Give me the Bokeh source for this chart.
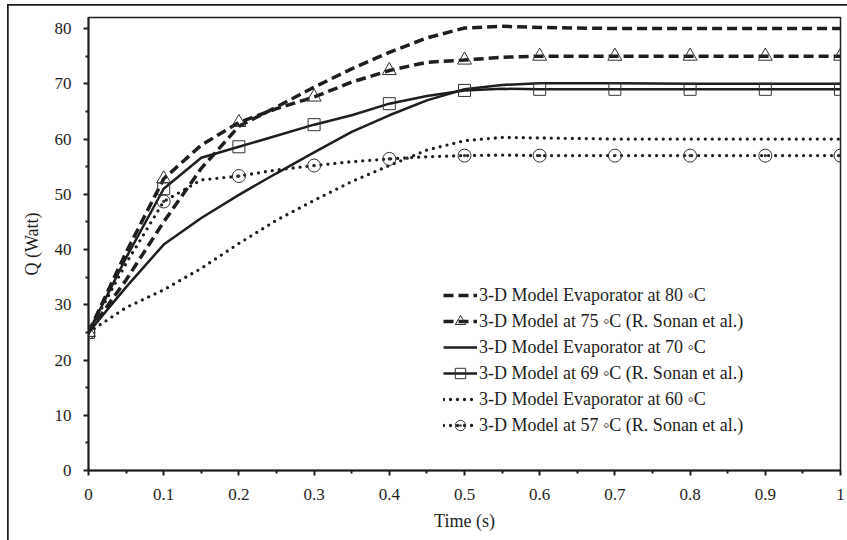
from bokeh.plotting import figure
from bokeh.models import Legend, LegendItem, FixedTicker, CustomJSTickFormatter, Range1d
from bokeh.embed import file_html
from bokeh.resources import INLINE

# ---- data ----
x_curve = [0, 0.05, 0.1, 0.15, 0.2, 0.25, 0.3, 0.35, 0.4, 0.45, 0.5, 0.55, 0.6, 0.7, 0.8, 0.9, 1.0]
q80 = [25, 34.5, 45.0, 54.7, 62.3, 65.8, 69.4, 72.7, 75.7, 78.3, 80.1, 80.4, 80.2, 80, 80, 80, 80]
q70 = [25, 33.2, 40.9, 45.7, 49.9, 53.8, 57.6, 61.3, 64.3, 67.0, 69.0, 69.8, 70.1, 70.1, 70, 70, 70]
q60 = [25, 29.5, 32.7, 36.6, 41.1, 45.3, 48.9, 52.3, 55.2, 58.0, 59.7, 60.3, 60.2, 60, 60, 60, 60]
q75_line = [25, 39.5, 52.8, 58.9, 63.0, 65.5, 67.6, 70.3, 72.4, 73.9, 74.3, 74.8, 75, 75, 75, 75, 75]
q69_line = [25, 38.5, 51.0, 56.6, 58.6, 60.6, 62.6, 64.3, 66.4, 67.8, 68.8, 69.1, 69, 69, 69, 69, 69]
q57_line = [25, 37.5, 48.7, 52.6, 53.3, 54.4, 55.2, 55.9, 56.4, 56.8, 57.0, 57.1, 57, 57, 57, 57, 57]

x_ref = [0, 0.1, 0.2, 0.3, 0.4, 0.5, 0.6, 0.7, 0.8, 0.9, 1.0]
q75 = [25, 52.8, 63.0, 67.6, 72.4, 74.3, 75, 75, 75, 75, 75]
q69 = [25, 51.0, 58.6, 62.6, 66.4, 68.8, 69, 69, 69, 69, 69]
q57 = [25, 48.7, 53.3, 55.2, 56.4, 57.0, 57, 57, 57, 57, 57]

labels = [
    "3-D Model Evaporator at 80 \u25e6C",
    "3-D Model at 75 \u25e6C (R. Sonan et al.)",
    "3-D Model Evaporator at 70 \u25e6C",
    "3-D Model at 69 \u25e6C (R. Sonan et al.)",
    "3-D Model Evaporator at 60 \u25e6C",
    "3-D Model at 57 \u25e6C (R. Sonan et al.)",
]

x_ticks = [0, 0.1, 0.2, 0.3, 0.4, 0.5, 0.6, 0.7, 0.8, 0.9, 1.0]
x_minor = [0.05, 0.15, 0.25, 0.35, 0.45, 0.55, 0.65, 0.75, 0.85, 0.95]
y_ticks = [0, 10, 20, 30, 40, 50, 60, 70, 80]
y_minor = [5, 15, 25, 35, 45, 55, 65, 75]

FONT = "Liberation Serif"
INK = "#1e1e1e"

p = figure(width=839, height=535, output_backend="svg", toolbar_location=None,
           x_range=Range1d(0, 1), y_range=Range1d(0, 82),
           min_border_left=80, min_border_right=7, min_border_top=12, min_border_bottom=70,
           x_axis_label="Time (s)", y_axis_label="Q (Watt)")
p.styles = {"margin-left": "8px", "margin-top": "5px",
            "outline": "2px solid #1e1e1e", "outline-offset": "-1px"}

p.xgrid.visible = False
p.ygrid.visible = False
p.outline_line_color = INK
p.outline_line_width = 1.5

p.xaxis.ticker = FixedTicker(ticks=x_ticks, minor_ticks=x_minor)
p.yaxis.ticker = FixedTicker(ticks=y_ticks, minor_ticks=y_minor)
p.xaxis.formatter = CustomJSTickFormatter(code="return tick.toFixed(1).replace(/\\.0$/, '');")

for ax in (p.xaxis[0], p.yaxis[0]):
    ax.axis_line_color = INK
    ax.axis_line_width = 2
    ax.major_tick_line_color = INK
    ax.major_tick_line_width = 2
    ax.minor_tick_line_color = INK
    ax.minor_tick_line_width = 2
    ax.major_tick_in = 0
    ax.major_tick_out = 5
    ax.minor_tick_in = 0
    ax.minor_tick_out = 3
    ax.major_label_text_font = FONT
    ax.major_label_text_font_size = "17px"
    ax.major_label_text_color = INK
    ax.axis_label_text_font = FONT
    ax.axis_label_text_font_size = "18px"
    ax.axis_label_text_font_style = "normal"
    ax.axis_label_text_color = INK
p.yaxis.major_label_standoff = 12
p.yaxis.axis_label_standoff = 10
p.xaxis.major_label_standoff = 13
p.xaxis.axis_label_standoff = 8

DASH = "10 5"
DOT = "0 7"

r80 = p.line(x_curve, q80, line_color=INK, line_width=3.5, line_dash=DASH)
r75l = p.line(x_curve, q75_line, line_color=INK, line_width=3.5, line_dash=DASH)
r75m = p.scatter(x_ref, q75, marker="triangle", size=14, fill_color=None,
                 line_color="#333333", line_width=1)
r70 = p.line(x_curve, q70, line_color=INK, line_width=2.5)
r69l = p.line(x_curve, q69_line, line_color=INK, line_width=2.5)
r69m = p.scatter(x_ref, q69, marker="square", size=12, fill_color=None,
                 line_color="#333333", line_width=1)
r60 = p.line(x_curve, q60, line_color=INK, line_width=3.3, line_dash=DOT, line_cap="round")
r57l = p.line(x_curve, q57_line, line_color=INK, line_width=3.3, line_dash=DOT, line_cap="round")
r57m = p.scatter(x_ref, q57, marker="circle_dot", size=13, fill_color=None,
                 line_color="#333333", line_width=1)

legend = Legend(items=[
    LegendItem(label=labels[0], renderers=[r80]),
    LegendItem(label=labels[1], renderers=[r75l, r75m]),
    LegendItem(label=labels[2], renderers=[r70]),
    LegendItem(label=labels[3], renderers=[r69l, r69m]),
    LegendItem(label=labels[4], renderers=[r60]),
    LegendItem(label=labels[5], renderers=[r57l, r57m]),
], location=(355, 32), padding=0, margin=0, spacing=0,
    glyph_width=34, glyph_height=26, label_height=26, label_standoff=2,
    border_line_color=None, background_fill_alpha=0,
    label_text_font=FONT, label_text_font_size="18px", label_text_color=INK)
p.add_layout(legend)

open("out.html", "w").write(file_html(p, INLINE))
